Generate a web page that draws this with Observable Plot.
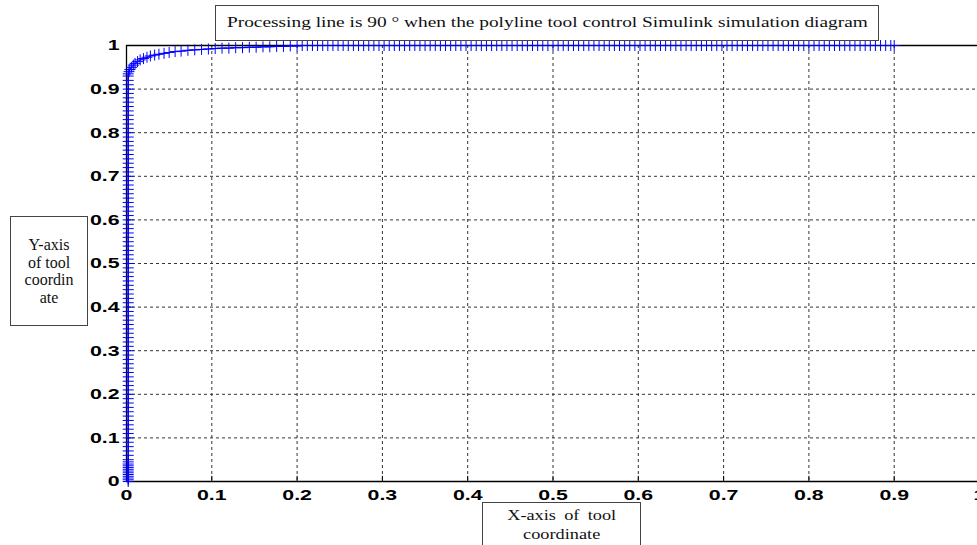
<!DOCTYPE html>
<html><head><meta charset="utf-8">
<script src="https://cdn.jsdelivr.net/npm/d3@7"></script>
<script src="https://cdn.jsdelivr.net/npm/@observablehq/plot@0.6"></script>
<style>
html,body{margin:0;padding:0;background:#fff;overflow:hidden}
#wrap{position:relative;width:977px;height:545px;overflow:hidden;background:#fff}
#wrap svg{position:absolute;left:0;top:0}
.box{position:absolute;background:#fff;border:1px solid #444;font-family:"Liberation Serif","Times New Roman",serif;font-size:15px;color:#111;text-align:center;box-sizing:border-box;white-space:nowrap}
.box .ln{display:block}
.box .sx{display:inline-block;transform-origin:50% 50%}
</style></head><body>
<div id="wrap"></div>
<script>
// ---- data ----
const titleText = "Processing line is 90 \u00b0 when the polyline tool control Simulink simulation diagram";
const yLabelLines = ["Y-axis", "of tool", "coordin", "ate"];
const xLabelLines = ["X-axis of tool", "coordinate"];
const xTicks = [0, 0.1, 0.2, 0.3, 0.4, 0.5, 0.6, 0.7, 0.8, 0.9, 1];
const yTicks = [0, 0.1, 0.2, 0.3, 0.4, 0.5, 0.6, 0.7, 0.8, 0.9, 1];
const gridX = [0.1, 0.2, 0.3, 0.4, 0.5, 0.6, 0.7, 0.8, 0.9];
const gridY = [0.1, 0.2, 0.3, 0.4, 0.5, 0.6, 0.7, 0.8, 0.9];

// rising segment (along the y axis)
const riseY = [0,0.004,0.008,0.012,0.016,0.02,0.024,0.028,0.032,0.036,0.04,0.045,0.05,0.06,0.07,0.08,0.09,0.1,0.11,0.12,0.13,0.14,0.15,0.16,0.17,0.18,0.19,0.2,0.21,0.22,0.23,0.24,0.25,0.26,0.27,0.28,0.29,0.3,0.31,0.32,0.33,0.34,0.35,0.36,0.37,0.38,0.39,0.4,0.41,0.42,0.43,0.44,0.45,0.46,0.47,0.48,0.49,0.5,0.51,0.52,0.53,0.54,0.55,0.56,0.57,0.58,0.59,0.6,0.61,0.62,0.63,0.64,0.65,0.66,0.67,0.68,0.69,0.7,0.71,0.72,0.73,0.74,0.75,0.76,0.77,0.78,0.79,0.8,0.81,0.82,0.83,0.84,0.85,0.86,0.87,0.88,0.89,0.9,0.91,0.92,0.93];
const riseX = [0.002,0.002,0.002,0.002,0.002,0.002,0.002,0.002,0.002,0.002,0.002,0.002,0.002,0.002,0.002,0.002,0.002,0.002,0.002,0.002,0.002,0.002,0.002,0.002,0.002,0.002,0.002,0.002,0.002,0.002,0.002,0.002,0.002,0.002,0.002,0.002,0.002,0.002,0.002,0.002,0.002,0.002,0.002,0.002,0.002,0.002,0.002,0.002,0.002,0.002,0.002,0.002,0.002,0.002,0.002,0.002,0.002,0.002,0.002,0.002,0.002,0.002,0.002,0.002,0.002,0.002,0.002,0.002,0.002,0.002,0.002,0.002,0.002,0.002,0.002,0.002,0.002,0.002,0.002,0.002,0.002,0.002,0.002,0.002,0.002,0.002,0.002,0.002,0.002,0.002,0.002,0.002,0.002,0.002,0.002,0.002,0.002,0.002,0.002,0.002,0.002];

// knee of the curve
const kneeX = [0.002,0.003,0.004,0.006,0.008,0.010,0.013,0.016,0.020,0.024,0.028,0.033,0.038,0.044,0.050,0.057,0.064,0.072,0.080,0.088,0.096,0.104,0.112,0.120,0.128,0.136,0.144,0.152,0.160,0.168,0.176,0.184,0.192,0.200];
const kneeY = [0.935,0.940,0.945,0.950,0.955,0.959,0.963,0.967,0.970,0.973,0.976,0.978,0.980,0.982,0.984,0.986,0.987,0.989,0.990,0.991,0.992,0.993,0.994,0.994,0.995,0.995,0.996,0.996,0.997,0.997,0.998,0.998,0.999,0.999];

// flat part at the top
const flatX = [0.206,0.212,0.218,0.224,0.230,0.236,0.242,0.248,0.254,0.260,0.266,0.272,0.278,0.284,0.290,0.296,0.302,0.308,0.314,0.320,0.326,0.332,0.338,0.344,0.350,0.356,0.362,0.368,0.374,0.380,0.386,0.392,0.398,0.404,0.410,0.416,0.422,0.428,0.434,0.440,0.446,0.452,0.458,0.464,0.470,0.476,0.482,0.488,0.494,0.500,0.506,0.512,0.518,0.524,0.530,0.536,0.542,0.548,0.554,0.560,0.566,0.572,0.578,0.584,0.590,0.596,0.602,0.608,0.614,0.620,0.626,0.632,0.638,0.644,0.650,0.656,0.662,0.668,0.674,0.680,0.686,0.692,0.698,0.704,0.710,0.716,0.722,0.728,0.734,0.740,0.746,0.752,0.758,0.764,0.770,0.776,0.782,0.788,0.794,0.800,0.806,0.812,0.818,0.824,0.830,0.836,0.842,0.848,0.854,0.860,0.866,0.872,0.878,0.884,0.890,0.896,0.900];
const flatY = [1,1,1,1,1,1,1,1,1,1,1,1,1,1,1,1,1,1,1,1,1,1,1,1,1,1,1,1,1,1,1,1,1,1,1,1,1,1,1,1,1,1,1,1,1,1,1,1,1,1,1,1,1,1,1,1,1,1,1,1,1,1,1,1,1,1,1,1,1,1,1,1,1,1,1,1,1,1,1,1,1,1,1,1,1,1,1,1,1,1,1,1,1,1,1,1,1,1,1,1,1,1,1,1,1,1,1,1,1,1,1,1,1,1,1,1,1];

// ---- build table ----
const pts = [];
riseX.forEach((x, i) => pts.push({x, y: riseY[i]}));
kneeX.forEach((x, i) => pts.push({x, y: kneeY[i]}));
flatX.forEach((x, i) => pts.push({x, y: flatY[i]}));

const plusSymbol = {
  draw(ctx, size) {
    const r = Math.sqrt(size / Math.PI);
    ctx.moveTo(-r, 0); ctx.lineTo(r, 0);
    ctx.moveTo(0, -r); ctx.lineTo(0, r);
  }
};

const chart = Plot.plot({
  width: 977, height: 545,
  marginLeft: 126, marginTop: 45, marginRight: 0, marginBottom: 64,
  style: {fontFamily: "'Liberation Sans', Arial, sans-serif", fontSize: "15px", fontWeight: "bold", color: "#000", background: "transparent", overflow: "hidden"},
  x: {domain: [0, 1], range: [126, 979], ticks: xTicks, tickSize: 0, tickPadding: 8, tickFormat: d => String(d), label: null},
  y: {domain: [0, 1], range: [481, 45], ticks: yTicks, tickSize: 0, tickPadding: 7, tickFormat: d => String(d), label: null},
  marks: [
    Plot.ruleX(gridX, {stroke: "#333", strokeDasharray: "3,3", strokeWidth: 1}),
    Plot.ruleY(gridY, {stroke: "#333", strokeDasharray: "3,3", strokeWidth: 1}),
    Plot.ruleX(xTicks, {y1: 0, y2: 0.012, stroke: "#000"}),
    Plot.ruleY(yTicks, {x1: 0, x2: 0.006, stroke: "#000"}),
    Plot.ruleX([0, 1], {stroke: "#000", strokeWidth: 1.3}),
    Plot.ruleY([0, 1], {stroke: "#000", strokeWidth: 1.3}),
    Plot.line(pts, {x: "x", y: "y", stroke: "#0000ff", strokeWidth: 1}),
    Plot.dot(pts, {x: "x", y: "y", symbol: plusSymbol, r: 5.5, stroke: "#0000ff", strokeWidth: 1, fill: "none"})
  ]
});
// widen the tick label glyphs like the reference (horizontally stretched bold digits)
chart.querySelectorAll('g[aria-label^="x-axis"] text, g[aria-label^="y-axis"] text').forEach(t => {
  const tr = t.getAttribute("transform") || "";
  t.setAttribute("transform", (tr + " scale(1.42,1)").trim());
});
const wrap = document.getElementById("wrap");
wrap.appendChild(chart);

function addBox(left, top, width, height, lines, lineHeight, padTop, sx, extra) {
  const d = document.createElement("div");
  d.className = "box";
  Object.assign(d.style, {left: left + "px", top: top + "px", width: width + "px", height: height + "px", lineHeight: lineHeight + "px", paddingTop: padTop + "px"}, extra || {});
  d.innerHTML = lines.map(s => `<span class="ln"><span class="sx" style="transform:scaleX(${sx})">${s}</span></span>`).join("");
  wrap.appendChild(d);
}
addBox(215, 5, 664, 36, [titleText], 17, 8, 1.29);
addBox(10, 216, 78, 110, yLabelLines, 17.5, 19, 1.0, {fontSize: "16px"});
addBox(482, 502, 159, 50, xLabelLines, 18.5, 3, 1.22, {wordSpacing: "3px"});
</script>
</body></html>
